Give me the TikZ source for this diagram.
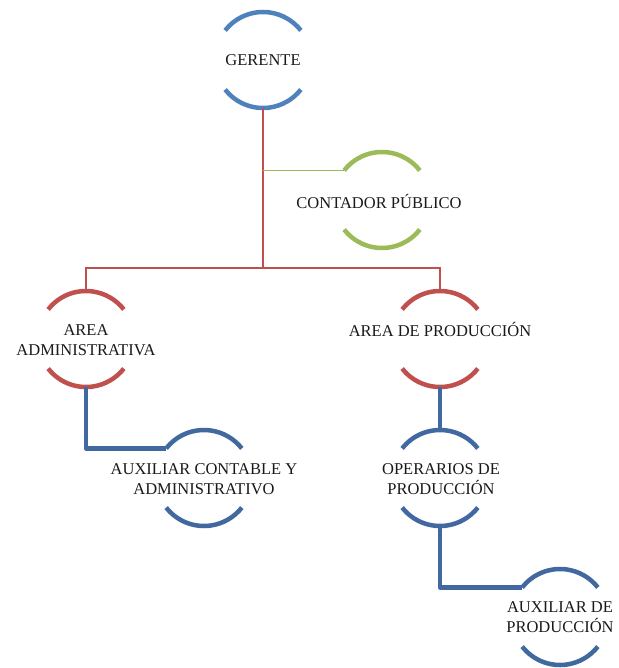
\documentclass[tikz,border=0pt]{standalone}
\usepackage{fontspec}
\setmainfont{Liberation Serif}
\definecolor{topblue}{HTML}{4F81BD}
\definecolor{lowblue}{HTML}{41699F}
\definecolor{ogreen}{HTML}{9BBB59}
\definecolor{ored}{HTML}{C0504D}
\tikzset{
  orgnode/.style={circle, minimum size=96pt, inner sep=0pt, outer sep=0pt},
  orgtext/.style={align=center, font=\fontsize{16.5pt}{20pt}\selectfont, text=black!90, inner sep=0pt},
  ringarc/.style={line width=4.5pt},
  thinlink/.style={line width=1.5pt},
  thicklink/.style={line width=4.5pt, color=lowblue, line join=round}
}
% top and bottom arcs of a ring around a node
\newcommand\ringarcs[2]{%
  \draw[ringarc,#2] (#1.142) arc[start angle=142,end angle=38,radius=48pt];
  \draw[ringarc,#2] (#1.218) arc[start angle=218,end angle=322,radius=48pt];}
\begin{document}
\begin{tikzpicture}[x=1pt,y=1pt]
\useasboundingbox (0,0) rectangle (618,-668);

% nodes
\node[orgnode] (ger) at (263,-60) {};
\node[orgtext] (gert) at (ger.center) {GERENTE};
\node[orgnode] (con) at (382,-200) {};
\node[orgtext] (cont) at (379,-201) {CONTADOR PÚBLICO};
\node[orgnode] (adm) at (86,-339) {};
\node[orgtext] (admt) at (86,-340) {AREA\\ADMINISTRATIVA};
\node[orgnode] (pro) at (440,-339) {};
\node[orgtext] (prot) at (440,-329) {AREA DE PRODUCCIÓN};
\node[orgnode] (aux) at (204,-478) {};
\node[orgtext] (auxt) at (204,-479) {AUXILIAR CONTABLE Y\\ADMINISTRATIVO};
\node[orgnode] (ope) at (440,-478) {};
\node[orgtext] (opet) at (441,-479) {OPERARIOS DE\\PRODUCCIÓN};
\node[orgnode] (axp) at (560,-617) {};
\node[orgtext] (axpt) at (560,-617) {AUXILIAR DE\\PRODUCCIÓN};

% rings
\ringarcs{ger}{topblue}
\ringarcs{con}{ogreen}
\ringarcs{adm}{ored}
\ringarcs{pro}{ored}
\ringarcs{aux}{lowblue}
\ringarcs{ope}{lowblue}
\ringarcs{axp}{lowblue}

% connectors
\coordinate (split) at (263,-268);
\draw[thinlink, ored] (ger.south) -- (split);
\draw[thinlink, ored] (adm.north) -- (adm.north |- split) -- (pro.north |- split) -- (pro.north);
\draw[thinlink, ogreen] (ger.south |- con.142) -- (con.142);
\draw[thicklink] (adm.south) |- (aux.142);
\draw[thicklink] (pro.south) -- (ope.north);
\draw[thicklink] (ope.south) |- (axp.142);
\end{tikzpicture}
\end{document}
